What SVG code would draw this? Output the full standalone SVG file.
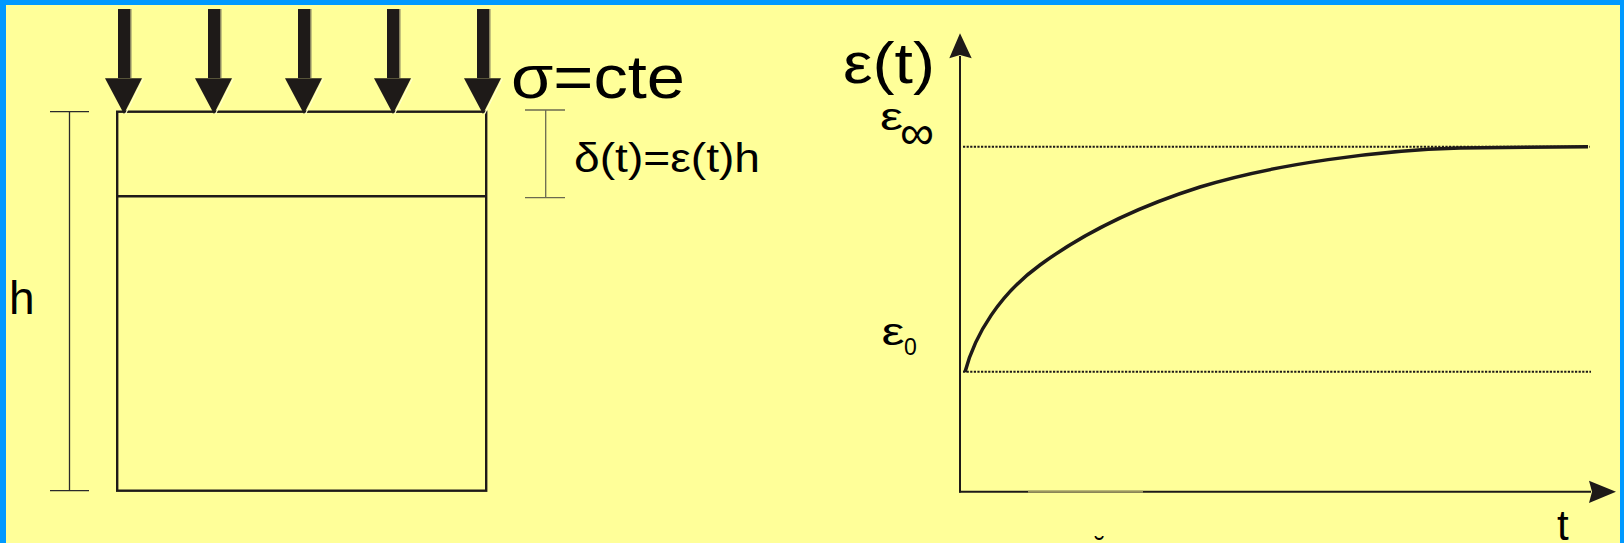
<svg xmlns="http://www.w3.org/2000/svg" width="1624" height="543" viewBox="0 0 1624 543">
  <style>
    .ink { fill: #1e1a18; }
    .line { stroke: #1e1a18; fill: none; }
    .txt { font-family: "Liberation Sans", Arial, sans-serif; fill: #000; }
    .dot { stroke: #1e1a18; stroke-width: 2; stroke-dasharray: 2.2 1.4; fill: none; }
  </style>
  <defs>
    <g id="load">
      <rect x="6" y="9" width="1.5" height="69" fill="#8a8560"/>
      <rect x="-6" y="9" width="12" height="69" class="ink"/>
      <polygon points="-19,78.3 18,78.3 0,114" class="ink"/>
      <line x1="19.5" y1="78.5" x2="1.5" y2="114" stroke="#ffffcc" stroke-width="1.2"/>
    </g>
  </defs>

  <!-- background -->
  <rect x="0" y="0" width="1624" height="543" fill="#0099ff"/>
  <rect x="6" y="5" width="1614" height="538" fill="#ffff99"/>

  <!-- specimen -->
  <g id="specimen">
    <rect x="117.2" y="111.7" width="369" height="379" class="line" stroke-width="2.4"/>
    <line x1="117.2" y1="196.3" x2="486.2" y2="196.3" class="line" stroke-width="2.4"/>
  </g>

  <!-- loads -->
  <g id="loads">
    <use href="#load" x="124"/>
    <use href="#load" x="214"/>
    <use href="#load" x="304"/>
    <use href="#load" x="393"/>
    <use href="#load" x="483"/>
  </g>

  <!-- dimension h -->
  <g id="dim-h">
    <line x1="69.5" y1="111.7" x2="69.5" y2="490.7" stroke="#2a2a2a" stroke-width="1.3"/>
    <line x1="50" y1="111.7" x2="89" y2="111.7" stroke="#2a2a2a" stroke-width="1.3"/>
    <line x1="50" y1="490.7" x2="89" y2="490.7" stroke="#2a2a2a" stroke-width="1.3"/>
    <text x="9" y="314" class="txt" font-size="46">h</text>
  </g>

  <!-- dimension delta -->
  <g id="dim-delta">
    <line x1="545.7" y1="110" x2="545.7" y2="197.7" stroke="#6b6a50" stroke-width="1.3"/>
    <line x1="525" y1="110" x2="565" y2="110" stroke="#6b6a50" stroke-width="1.3"/>
    <line x1="525" y1="197.7" x2="565" y2="197.7" stroke="#6b6a50" stroke-width="1.3"/>
    <text x="574" y="172" class="txt" font-size="40" textLength="186" lengthAdjust="spacingAndGlyphs">δ(t)=ε(t)h</text>
  </g>

  <g id="stress-label">
    <text x="511" y="98" class="txt" font-size="61" textLength="174" lengthAdjust="spacingAndGlyphs">σ=cte</text>
  </g>

  <!-- graph axes -->
  <g id="connectors">
    <line x1="960" y1="56" x2="960" y2="492.5" class="line" stroke-width="2"/>
    <polygon points="960,33.3 971.7,58.3 960,55 949.3,58.3" class="ink"/>
    <line x1="959" y1="491.7" x2="1591" y2="491.7" class="line" stroke-width="2"/>
    <line x1="1028" y1="491.7" x2="1143" y2="491.7" stroke="#9c9660" stroke-width="2"/>
    <polygon points="1616,491.7 1589,480.7 1592,491.7 1589,503" class="ink"/>
  </g>

  <g id="guides">
    <line x1="963" y1="146.7" x2="1590" y2="146.7" class="dot"/>
    <line x1="963" y1="371.7" x2="1591" y2="371.7" class="dot"/>
  </g>

  <g id="curve">
    <path d="M965,372 C975,334 1000,294 1040,265 C1085,232 1140,206 1200,187 C1275,164 1380,150 1460,148 C1520,147 1560,146.7 1588,146.7" class="line" stroke-width="3.5"/>
  </g>

  <g id="graph-labels">
    <text x="843" y="83" class="txt" font-size="58" textLength="92" lengthAdjust="spacingAndGlyphs">ε(t)</text>
    <text x="880" y="130" class="txt" font-size="38" textLength="23" lengthAdjust="spacingAndGlyphs">ε</text>
    <text x="900" y="149" class="txt" font-size="48" textLength="34" lengthAdjust="spacingAndGlyphs">∞</text>
    <text x="881.5" y="345" class="txt" font-size="38" textLength="23" lengthAdjust="spacingAndGlyphs">ε</text>
    <text x="904" y="355" class="txt" font-size="23">0</text>
    <text x="1557" y="540" class="txt" font-size="42">t</text>
    <text x="1095" y="556" class="txt" font-size="28">˘</text>
  </g>
</svg>
